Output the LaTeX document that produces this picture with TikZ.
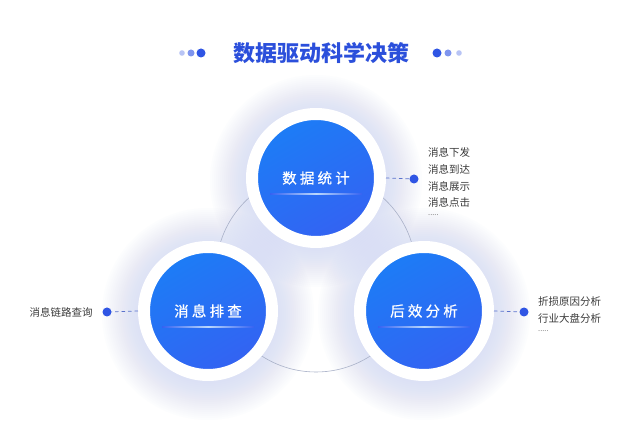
\documentclass[tikz,border=0pt]{standalone}
\usepackage{fontspec}
\newfontfamily\cjk{Noto Sans CJK SC}
\newfontfamily\cjkwide[LetterSpace=22,FakeBold=0.6]{Noto Sans CJK SC}
\usetikzlibrary{positioning,calc}
\definecolor{skyblue}{HTML}{1C7DF6}
\definecolor{royalblue}{HTML}{3462F2}
\definecolor{deepblue}{HTML}{2F55E4}
\definecolor{midblue}{HTML}{7F95EE}
\definecolor{paleblue}{HTML}{B8C4F5}
\definecolor{titleblue}{HTML}{2B4FDB}
\definecolor{textgray}{HTML}{3A3A3A}
\definecolor{linkblue}{HTML}{5A72CC}
\definecolor{ringgray}{HTML}{A9B1C8}
\definecolor{glowblue}{HTML}{C5CEF5}
\begin{document}
\begin{tikzpicture}[x=1pt,y=1pt]
	\tikzset{bubble/.style = {shape=circle,minimum size=128pt,draw=white,line width=12pt,top color=skyblue,bottom color=royalblue,shading angle=30,text=white,font=\cjkwide\fontsize{14.5}{14.5}\selectfont}}
	\tikzset{dot/.style = {shape=circle,fill=deepblue,inner sep=0,minimum size=9pt}}
	\tikzset{link/.style = {draw=linkblue,dash pattern=on 3.5pt off 3pt,line width=0.7pt}}
	\tikzset{list/.style = {align=left,text=textgray,inner sep=0,font=\cjk\fontsize{10.5}{16.7}\selectfont}}
	\useasboundingbox (0,0) rectangle (640,431);
	\fill[white] (0,0) rectangle (640,431);
	% halo behind the circles
	\coordinate (c1) at (316,253);
	\coordinate (c2) at (208,120);
	\coordinate (c3) at (424,120);
	\foreach \p in {c1,c2,c3}
		\foreach \r in {70,72,...,106}
			\fill[glowblue,opacity=0.035] ($(\p)+(0,-3)$) circle (\r);
	\draw[ringgray,line width=0.6pt] (316,159) circle (100);
	% title
	\node[font=\cjk\bfseries\fontsize{22}{22}\selectfont,text=titleblue] (title) at (321,378) {数据驱动科学决策};
	\foreach \x/\s/\c [count=\i] in {182/5.6pt/paleblue,191/7pt/midblue,201/9pt/deepblue,437/9pt/deepblue,448/7pt/midblue,459/5.6pt/paleblue}
		\node[dot,minimum size=\s,fill=\c] (td\i) at (\x,378) {};
	% circles
	\node[bubble] (stat) at (c1) {数据统计};
	\node[bubble] (check) at (c2) {消息排查};
	\node[bubble] (effect) at (c3) {后效分析};
	\foreach \n in {stat,check,effect}
		\shade[left color=royalblue,right color=royalblue,middle color=white!70!skyblue] ($(\n.center)+(-46,-16.4)$) rectangle ($(\n.center)+(46,-15.6)$);
	% side notes
	\node[dot] (statdot) at (414,252) {};
	\node[dot] (checkdot) at (107,119) {};
	\node[dot] (effectdot) at (524,119) {};
	\draw[link] (stat.east) -- (statdot);
	\draw[link] (check.west) -- (checkdot);
	\draw[link] (effect.east) -- (effectdot);
	\node[list,anchor=west] (statlist) at (428,249) {消息下发\\消息到达\\消息展示\\消息点击\\[-7.7pt]{\color{gray}\fontsize{7.5}{7.5}\selectfont .....}};
	\node[list,left=9.5pt of checkdot] (checklist) {消息链路查询};
	\node[list,anchor=west] (effectlist) at (538,117) {折损原因分析\\行业大盘分析\\[-7.7pt]{\color{gray}\fontsize{7.5}{7.5}\selectfont .....}};
\end{tikzpicture}
\end{document}
